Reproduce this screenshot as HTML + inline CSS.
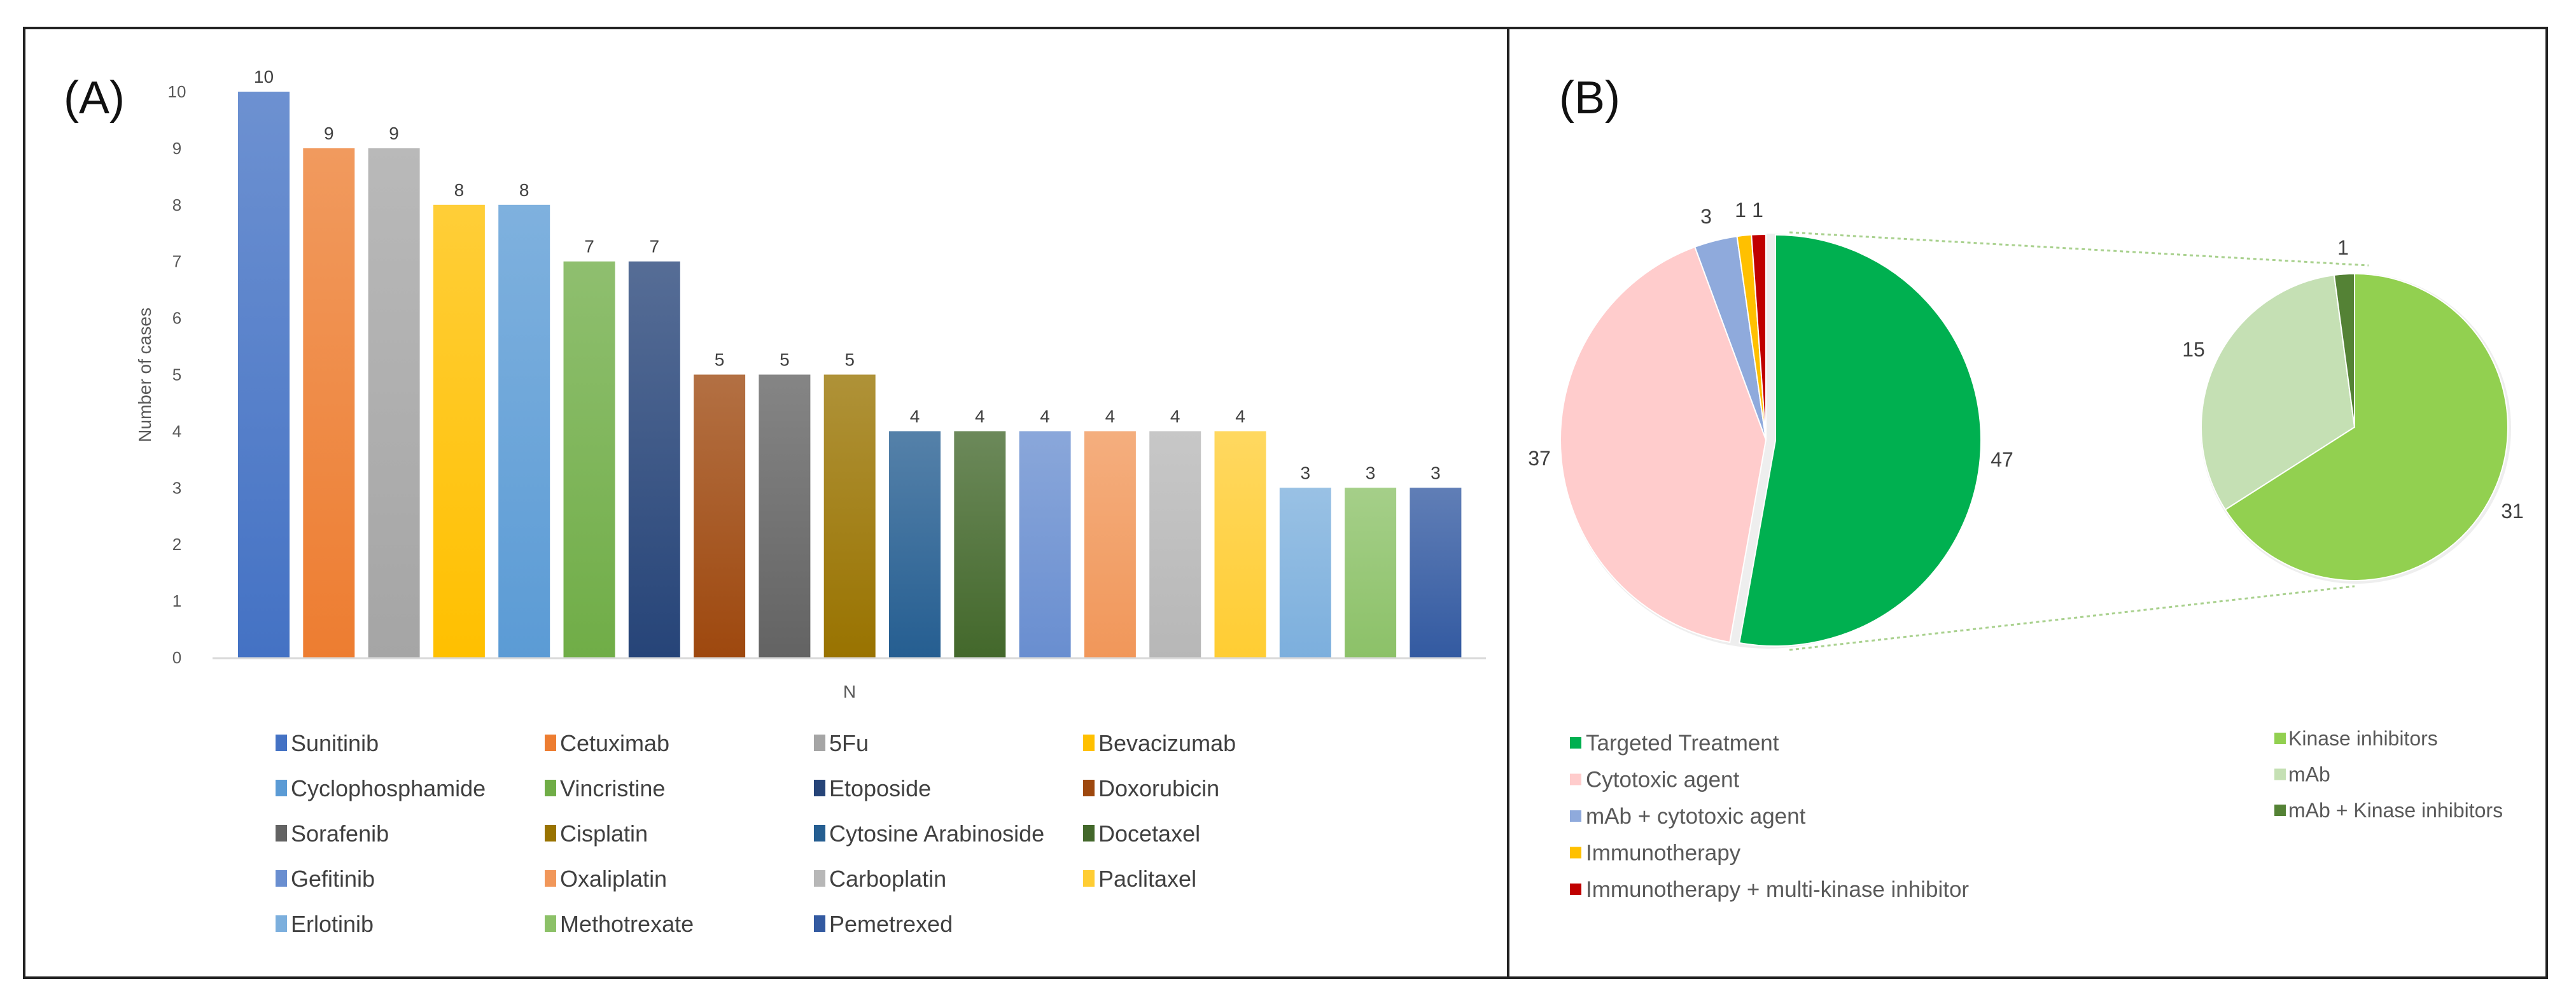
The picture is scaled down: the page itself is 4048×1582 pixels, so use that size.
<!DOCTYPE html>
<html><head><meta charset="utf-8"><style>
html,body{margin:0;padding:0;background:#fff;}
svg{display:block;font-family:"Liberation Sans",sans-serif;}
</style></head><body>
<svg id="fig" width="4048" height="1582" viewBox="0 0 4048 1582" xmlns="http://www.w3.org/2000/svg">
<defs id="defs"></defs>
<rect x="38" y="44" width="3964" height="1492" fill="none" stroke="#222" stroke-width="4"/>
<line x1="2370" y1="44" x2="2370" y2="1536" stroke="#222" stroke-width="4"/>
<text x="100" y="178" font-size="72" fill="#111">(A)</text>
<text x="2450" y="178" font-size="72" fill="#111">(B)</text>
<g id="bar"></g>
<g id="pie"></g>
</svg>
<script>
const drugs=["Sunitinib","Cetuximab","5Fu","Bevacizumab","Cyclophosphamide","Vincristine","Etoposide","Doxorubicin","Sorafenib","Cisplatin","Cytosine Arabinoside","Docetaxel","Gefitinib","Oxaliplatin","Carboplatin","Paclitaxel","Erlotinib","Methotrexate","Pemetrexed"];
const cases=[10,9,9,8,8,7,7,5,5,5,4,4,4,4,4,4,3,3,3];
const yTicks=[0,1,2,3,4,5,6,7,8,9,10];
const barColors=["#4472c4","#ed7d31","#a5a5a5","#ffc000","#5b9bd5","#70ad47","#264478","#9e480e","#636363","#997300","#255e91","#43682b","#698ed0","#f1975a","#b7b7b7","#ffcd33","#7cafdd","#8cc168","#335aa1"];
const mainLabels=["Targeted Treatment","Cytotoxic agent","mAb + cytotoxic agent","Immunotherapy","Immunotherapy + multi-kinase inhibitor"];
const mainValues=[47,37,3,1,1];
const mainColors=["#00b050","#ffcccc","#8faadc","#ffc000","#c00000"];
const subLabels=["Kinase inhibitors","mAb","mAb + Kinase inhibitors"];
const subValues=[31,15,1];
const subColors=["#92d050","#c5e0b4","#548235"];
const NS="http://www.w3.org/2000/svg";
function mk(tag,attrs,parent){const e=document.createElementNS(NS,tag);for(const k in attrs)e.setAttribute(k,attrs[k]);parent.appendChild(e);return e;}
function lighten(hex,f){const n=parseInt(hex.slice(1),16);let r=n>>16,g=(n>>8)&255,b=n&255;r=Math.round(r+(255-r)*f);g=Math.round(g+(255-g)*f);b=Math.round(b+(255-b)*f);return `rgb(${r},${g},${b})`;}
const defs=document.getElementById('defs');
const bar=document.getElementById('bar');
const y0=1033,yTop=144,yMax=10;
const yScale=v=>y0-(y0-yTop)*v/yMax;
const x0=374,pitch=102.3,bw=81;
const xScale=i=>x0+i*pitch;
yTicks.forEach(t=>{const tx=mk('text',{x:278,y:yScale(t)+9,'font-size':26,fill:'#595959','text-anchor':'middle'},bar);tx.textContent=t;

});
const yt=mk('text',{x:0,y:0,'font-size':28,fill:'#595959','text-anchor':'middle',transform:'translate(237,589) rotate(-90)'},bar);yt.textContent='Number of cases';


const xt=mk('text',{x:1335,y:1096,'font-size':28,fill:'#595959','text-anchor':'middle'},bar);xt.textContent='N';


cases.forEach((v,i)=>{
 const g=mk('linearGradient',{id:'g'+i,x1:0,y1:0,x2:0,y2:1},defs);
 mk('stop',{offset:0,'stop-color':lighten(barColors[i],0.22)},g);
 mk('stop',{offset:1,'stop-color':barColors[i]},g);
 const r=mk('rect',{x:xScale(i),y:yScale(v),width:bw,height:y0-yScale(v),fill:'url(#g'+i+')'},bar);
 
 
 const l=mk('text',{x:xScale(i)+bw/2,y:yScale(v)-14,'font-size':28,fill:'#404040','text-anchor':'middle'},bar);l.textContent=v;
 
 
});
const ax=mk('line',{x1:334,y1:y0+1,x2:2335,y2:y0+1,stroke:'#d9d9d9','stroke-width':3},bar);


drugs.forEach((d,i)=>{const col=i%4,row=Math.floor(i/4);const lx=433+col*423,ly=1167+row*71;
 const s=mk('rect',{x:lx,y:ly-13,width:18,height:26,fill:barColors[i]},bar);
 
 
 const t=mk('text',{x:lx+24,y:ly+13,'font-size':36,fill:'#404040'},bar);t.textContent=d;
 
 });
const pie=document.getElementById('pie');
function arc(cx,cy,r,a0,a1){const p=a=>[cx+r*Math.sin(a),cy-r*Math.cos(a)];const [sx,sy]=p(a0),[ex,ey]=p(a1);const large=(a1-a0)>Math.PI?1:0;return `M${cx},${cy} L${sx},${sy} A${r},${r} 0 ${large} 1 ${ex},${ey} Z`;}
function drawPie(values,colors,names,cx,cy,r,start,explode){const tot=values.reduce((a,b)=>a+b,0);let a=start;
 values.forEach((v,i)=>{const a1=a+v/tot*2*Math.PI;let dx=0,dy=0;if(explode&&i===0){dx=15;dy=1;}
  const p=mk('path',{d:arc(cx+dx,cy+dy,r,a,a1),fill:colors[i],stroke:'#fff','stroke-width':2},pie);
  
  
  a=a1;});}
mk('circle',{cx:2778,cy:693,r:326,fill:'#ddd',opacity:0.5},pie);
drawPie(mainValues,mainColors,mainLabels,2775,691,323,0,true);
mk('circle',{cx:3702,cy:673,r:244,fill:'#ddd',opacity:0.5},pie);
drawPie(subValues,subColors,subLabels,3700,671,241,0,false);
const mainLblPos=[[3146,733],[2419,731],[2681,351],[2735,341],[2762,341]];
mainValues.forEach((v,i)=>{const t=mk('text',{x:mainLblPos[i][0],y:mainLblPos[i][1],'font-size':32,fill:'#404040','text-anchor':'middle'},pie);t.textContent=v;
 
 });
const subLblPos=[[3948,814],[3447,560],[3682,400]];
subValues.forEach((v,i)=>{const t=mk('text',{x:subLblPos[i][0],y:subLblPos[i][1],'font-size':32,fill:'#404040','text-anchor':'middle'},pie);t.textContent=v;
 
 });
[[2812,365,3722,417],[2812,1021,3700,921]].forEach(c=>{const l=mk('line',{x1:c[0],y1:c[1],x2:c[2],y2:c[3],stroke:'#a9d18e','stroke-width':3,'stroke-dasharray':'5 5'},pie);
 
 });
mainLabels.forEach((n,i)=>{const ly=1167+i*57.5;
 const s=mk('rect',{x:2467,y:ly-9,width:18,height:18,fill:mainColors[i]},pie);
 
 
 const t=mk('text',{x:2492,y:ly+12,'font-size':35,fill:'#595959'},pie);t.textContent=n;
 
 });
subLabels.forEach((n,i)=>{const ly=1160+i*56.5;
 const s=mk('rect',{x:3574,y:ly-9,width:18,height:18,fill:subColors[i]},pie);
 
 
 const t=mk('text',{x:3596,y:ly+11,'font-size':32,fill:'#595959'},pie);t.textContent=n;
 
 });
</script>
</body></html>
